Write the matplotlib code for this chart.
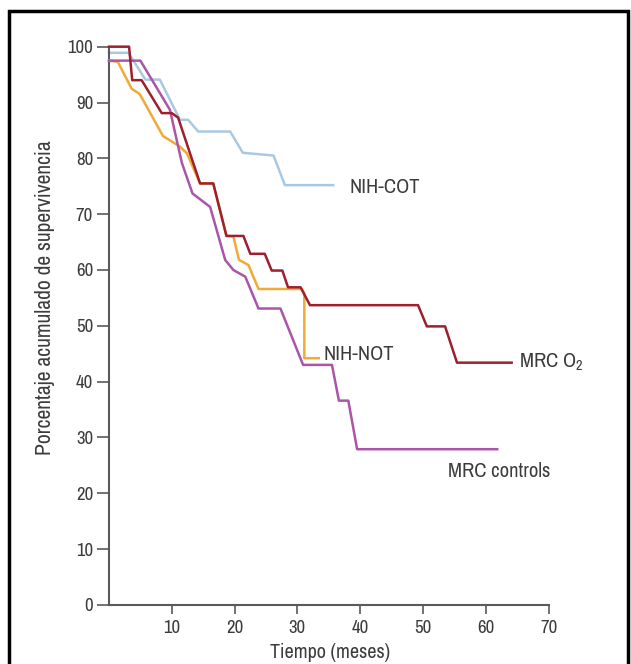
import matplotlib.pyplot as plt
import matplotlib.patches as patches
from matplotlib import font_manager

# Kaplan-Meier style curves, vertices (months, %)
mrc_o2_x = [0, 3.2, 3.7, 5.2, 8.4, 10.0, 11.0, 14.5, 16.6, 18.7, 21.4, 22.5, 24.8,
            25.9, 27.6, 28.5, 30.5, 32.0, 49.2, 50.6, 53.5, 55.4, 64.1]
mrc_o2_y = [100, 100, 94.0, 94.0, 88.1, 88.1, 87.3, 75.5, 75.5, 66.1, 66.1, 62.9, 62.9,
            59.9, 59.9, 56.9, 56.9, 53.7, 53.7, 49.9, 49.9, 43.4, 43.4]

mrc_ctrl_x = [0, 5.0, 9.7, 11.6, 13.3, 16.1, 18.5, 19.8, 21.7, 23.8, 27.3, 30.9,
              35.5, 36.6, 38.1, 39.5, 61.8]
mrc_ctrl_y = [97.5, 97.5, 88.7, 79.2, 73.7, 71.3, 61.8, 60.0, 58.8, 53.1, 53.1, 43.0,
              43.0, 36.6, 36.6, 27.9, 27.9]

nih_not_x = [0, 1.4, 3.6, 4.9, 8.6, 11.3, 12.4, 14.5, 16.6, 18.7, 19.8, 20.7, 22.2,
             23.8, 30.7, 31.1, 31.1, 33.4]
nih_not_y = [97.5, 97.3, 92.5, 91.5, 84.0, 82.1, 80.9, 75.5, 75.5, 66.1, 66.0, 61.8, 60.9,
             56.6, 56.6, 55.8, 44.2, 44.2]

nih_cot_x = [0, 3.1, 5.8, 8.1, 11.3, 12.6, 14.2, 19.3, 21.3, 26.2, 28.0, 35.7]
nih_cot_y = [98.9, 98.9, 94.1, 94.1, 86.9, 86.9, 84.8, 84.8, 81.0, 80.5, 75.2, 75.2]

x_ticks = [10, 20, 30, 40, 50, 60, 70]
y_ticks = [0, 10, 20, 30, 40, 50, 60, 70, 80, 90, 100]

names = [f.name for f in font_manager.fontManager.ttflist]
family = 'Archivo Narrow' if 'Archivo Narrow' in names else 'Liberation Sans'
plt.rcParams['font.family'] = [family, 'DejaVu Sans']
plt.rcParams['mathtext.default'] = 'regular'

ink = '#3c3c3c'
axis_col = '#5a5a5a'
fs = 13.5

fig = plt.figure(figsize=(6.31, 6.64), dpi=100)
ax = fig.add_axes([0.1727, 0.0889, 0.6969, 0.8408])

lw = 1.8
ax.plot(nih_cot_x, nih_cot_y, color='#a9c9e2', lw=lw, clip_on=False, zorder=2)
ax.plot(nih_not_x, nih_not_y, color='#f0aa38', lw=lw, clip_on=False, zorder=3)
ax.plot(mrc_ctrl_x, mrc_ctrl_y, color='#aa55aa', lw=lw, clip_on=False, zorder=4)
ax.plot(mrc_o2_x, mrc_o2_y, color='#9e1f2e', lw=lw, clip_on=False, zorder=5)

ax.set_xlim(0, 70)
ax.set_ylim(0, 100)
ax.set_xticks(x_ticks)
ax.set_yticks(y_ticks)

for s in ['top', 'right']:
    ax.spines[s].set_visible(False)
for s in ['left', 'bottom']:
    ax.spines[s].set_color(axis_col)
    ax.spines[s].set_linewidth(1.5)

ax.tick_params(axis='y', length=8.5, width=1.2, color=axis_col, pad=3,
               labelsize=fs, labelcolor=ink)
ax.tick_params(axis='x', length=6.5, width=1.2, color=axis_col, pad=4,
               labelsize=fs, labelcolor=ink)

# axis titles placed in figure pixels as in the source
fig.text(45 / 631, 1 - 298 / 664, 'Porcentaje acumulado de supervivencia',
         rotation=90, ha='center', va='center', fontsize=15.5, color=ink)
fig.text(330 / 631, 1 - 652 / 664, 'Tiempo (meses)', ha='center', va='center',
         fontsize=14.5, color=ink)

# series labels
lab = dict(fontsize=14.8, color=ink, va='baseline', ha='left')
ax.text(38.3, 73.8, 'NIH-COT', **lab)
ax.text(34.1, 43.9, 'NIH-NOT', **lab)
ax.text(65.2, 42.45, 'MRC O$_2$', **lab)
ax.text(54.0, 23.0, 'MRC controls', **lab)

# outer frame
frame = patches.Rectangle((0.0135, -0.05), 0.981, 1.0334, transform=fig.transFigure,
                          fill=False, lw=2.5, ec='black')
fig.patches.append(frame)

fig.savefig('out.png', dpi=100)
